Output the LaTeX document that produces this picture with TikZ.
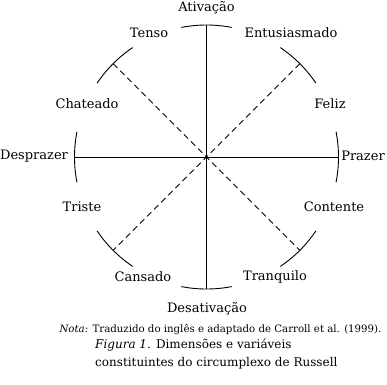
\documentclass[tikz,border=0pt]{standalone}
\usepackage{fontspec}
\setmainfont{DejaVu Serif}
\usetikzlibrary{positioning, calc}
\tikzset{
  axis/.style={draw, line width=0.9pt},
  diag/.style={draw, line width=0.9pt, dash pattern=on 6pt off 4pt},
  rim/.style={draw, line width=0.9pt},
  mood/.style={font=\fontsize{13}{15}\selectfont, inner sep=0},
  note/.style={font=\fontsize{10.2}{12}\selectfont, inner sep=0},
  capt/.style={font=\fontsize{12}{18}\selectfont, inner sep=0, align=left}
}

\begin{document}
\begin{tikzpicture}[x=1pt, y=1pt]
  \useasboundingbox (-206.5,-227) rectangle (180.5,157);
  \coordinate (c) at (0,0);
  % ends of the axes on the circle
  \coordinate (n) at (90:132);
  \coordinate (s) at (270:132);
  \coordinate (e) at (0:132);
  \coordinate (w) at (180:132);
  \coordinate (ne) at (45:132);
  \coordinate (nw) at (135:132);
  \coordinate (se) at (315:132);
  \coordinate (sw) at (225:132);
  \draw[axis] (w) -- (e);
  \draw[axis] (n) -- (s);
  \draw[diag] (ne) -- (sw);
  \draw[diag] (nw) -- (se);
  % short arcs at every end
  \foreach \a in {0,45,...,315}
    \draw[rim] ({\a-11}:132) arc[start angle=\a-11, end angle=\a+11, radius=132];
  % poles
  \node[mood] (ativ) at (0,149) {Ativação};
  \node[mood] (desativ) at (0.5,-152) {Desativação};
  \node[mood] (praz) at (156.5,1) {Prazer};
  \node[mood] (despraz) at (-172.5,1) {Desprazer};
  % states
  \node[mood] (tenso) at (-57.5,124) {Tenso};
  \node[mood] (entus) at (84.5,124) {Entusiasmado};
  \node[mood] (chat) at (-119.5,53) {Chateado};
  \node[mood] (feliz) at (123.5,53) {Feliz};
  \node[mood] (triste) at (-124.5,-50) {Triste};
  \node[mood] (cont) at (127.5,-50) {Contente};
  \node[mood] (cans) at (-63.5,-120) {Cansado};
  \node[mood] (tranq) at (68.5,-120) {Tranquilo};
  % caption
  \node[note] (nota) at (14,-173) {\textit{Nota:} Traduzido do inglês e adaptado de Carroll et al. (1999).};
  \node[capt, anchor=north west] (fig) at (-111.5,-182) {\textit{Figura 1}. Dimensões e variáveis\\constituintes do circumplexo de Russell};
\end{tikzpicture}
\end{document}
